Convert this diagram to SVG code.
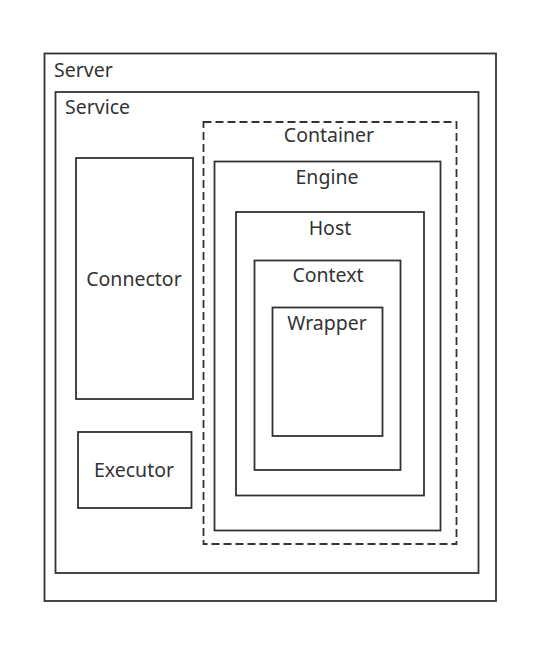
<svg xmlns="http://www.w3.org/2000/svg" width="555" height="672" viewBox="0 0 555 672">
<style>
rect{fill:none;stroke:#333;stroke-width:1.8}
.dash{stroke-dasharray:8 4}
text{font-family:"Noto Sans","Open Sans",sans-serif;font-size:19.5px;fill:#333}
.c{text-anchor:middle}
</style>
<rect x="0" y="0" width="555" height="672" style="fill:#fff;stroke:none"/>
<g id="server"><rect x="44.5" y="53.5" width="451.5" height="547.5"/><text x="54" y="77">Server</text></g>
<g id="service"><rect x="55.5" y="92" width="423" height="481"/><text x="65" y="114">Service</text></g>
<g id="connector"><rect x="76" y="158" width="117" height="241"/><text class="c" x="134" y="286">Connector</text></g>
<g id="executor"><rect x="78" y="432" width="113.5" height="76"/><text class="c" x="134" y="477">Executor</text></g>
<g id="container"><rect class="dash" x="203.5" y="122" width="253" height="422"/><text class="c" x="329" y="142">Container</text></g>
<g id="engine"><rect x="214.5" y="161.5" width="226" height="369"/><text class="c" x="327" y="184">Engine</text></g>
<g id="host"><rect x="236" y="212" width="188" height="283.5"/><text class="c" x="330" y="235">Host</text></g>
<g id="context"><rect x="254.5" y="260.5" width="146" height="209.5"/><text class="c" x="328" y="282">Context</text></g>
<g id="wrapper"><rect x="272.5" y="307.5" width="110" height="128.5"/><text class="c" x="327" y="330">Wrapper</text></g>
<g id="connectors"></g>
</svg>
